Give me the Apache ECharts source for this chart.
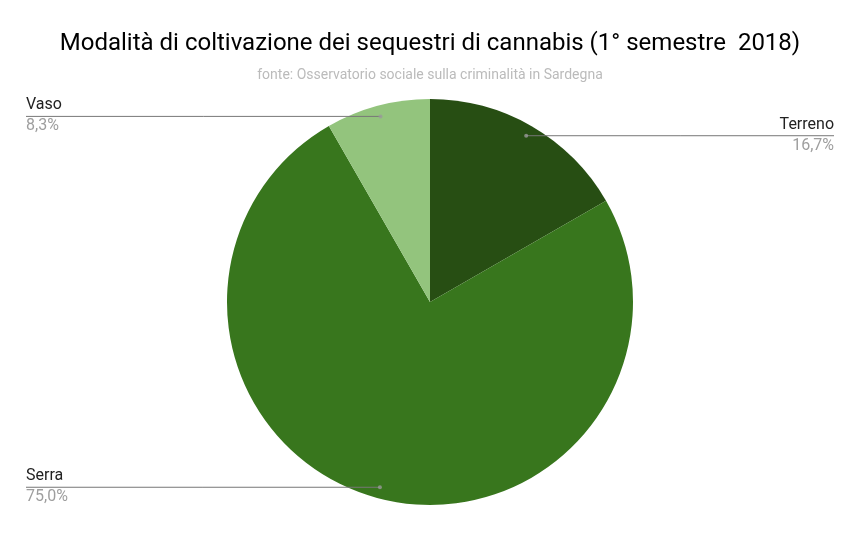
<!DOCTYPE html>
<html><head><meta charset="utf-8">
<script src="https://cdn.jsdelivr.net/npm/echarts@6/dist/echarts.min.js"></script>
<style>html,body{margin:0;padding:0;background:#fff}#c{width:860px;height:556px}</style>
</head><body><div id="c"></div>
<script>
const categories = ['Terreno', 'Serra', 'Vaso'];
const values = [16.7, 75.0, 8.3];
const colors = ['#274e13', '#38761d', '#93c47d'];
const titleText = 'Modalità di coltivazione dei sequestri di cannabis (1° semestre  2018)';
const subtitleText = 'fonte: Osservatorio sociale sulla criminalità in Sardegna';

const total = values.reduce((a, b) => a + b, 0);
let cum = 0;
const mids = values.map(v => { const m = cum + v / 2; cum += v; return m; });

const chart = echarts.init(document.getElementById('c'), null, {renderer: 'canvas'});
const center = ['50%', '54.3%'];
chart.setOption({
  animation: false,
  backgroundColor: '#fff',
  textStyle: {fontFamily: 'Roboto'},
  title: {
    text: titleText, subtext: subtitleText, left: 'center', top: 27, itemGap: 12,
    textStyle: {fontFamily: 'Roboto', fontSize: 24, fontWeight: 'normal', color: '#000'},
    subtextStyle: {fontFamily: 'Roboto', fontSize: 14, color: '#bbbbbb'}
  },
  polar: {center: center, radius: 192},
  angleAxis: {type: 'value', min: 0, max: total, startAngle: 90, clockwise: true, show: false},
  radiusAxis: {type: 'value', min: 0, max: 1, show: false},
  series: [
    {
      type: 'pie', center: center, radius: 203, startAngle: 90, clockwise: true, z: 2,
      silent: true, label: {show: false}, labelLine: {show: false},
      data: categories.map((c, i) => ({name: c, value: values[i], itemStyle: {color: colors[i]}}))
    },
    {
      type: 'pie', center: center, radius: 192, startAngle: 90, clockwise: true, silent: true, z: 5,
      itemStyle: {color: 'rgba(0,0,0,0)'},
      label: {
        show: true, position: 'outside', alignTo: 'edge', edgeDistance: 26,
        formatter: p => '{n|' + p.name + '}\n{v|' + p.value.toFixed(1).replace('.', ',') + '%}',
        rich: {
          n: {fontFamily: 'Roboto', fontSize: 16, color: '#222', lineHeight: 20},
          v: {fontFamily: 'Roboto', fontSize: 16, color: '#9e9e9e', lineHeight: 22}
        }
      },
      labelLine: {show: true, length: 0, length2: 10, lineStyle: {color: '#777', width: 1}},
      labelLayout: function (params) {
        const pts = params.labelLinePoints;
        if (!pts) return {};
        const r = params.labelRect;
        const p0 = pts[0];
        const last = pts[pts.length - 1];
        const isLeft = r.x + r.width / 2 < p0[0];
        const endX = isLeft ? r.x : r.x + r.width;
        const mid = [(p0[0] + endX) / 2, (p0[1] + last[1]) / 2];
        return {labelLinePoints: [p0.slice(), mid, [endX, last[1]]]};
      },
      data: categories.map((c, i) => ({name: c, value: values[i]}))
    },
    {
      type: 'scatter', coordinateSystem: 'polar', silent: true, symbolSize: 4, z: 6,
      itemStyle: {color: '#9a9a9a'},
      data: mids.map(m => [1, m])
    }
  ]
});
</script></body></html>
